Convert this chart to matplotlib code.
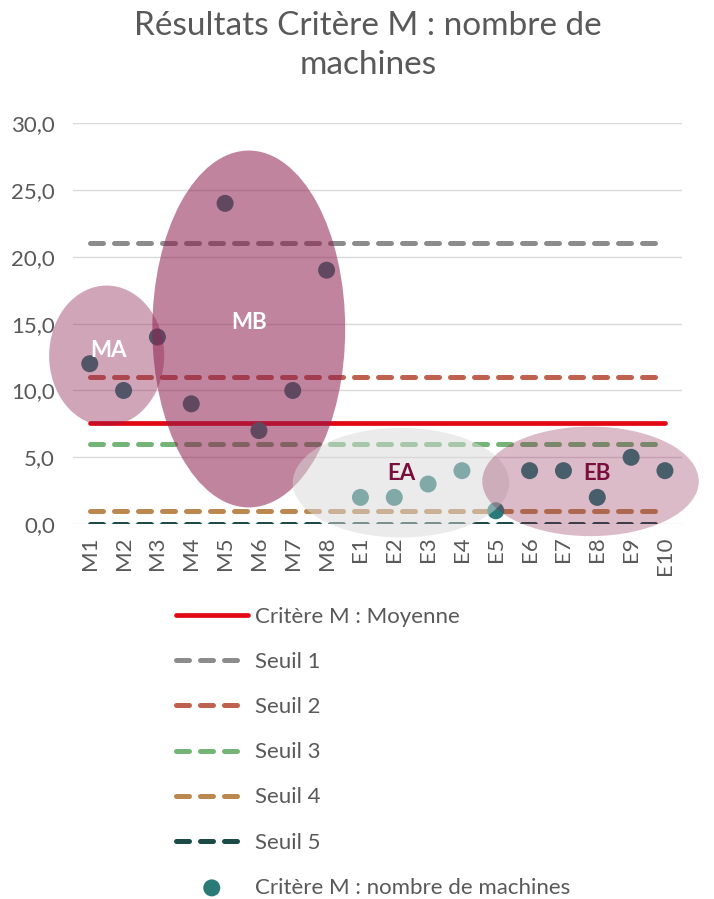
import matplotlib.pyplot as plt
from matplotlib.patches import Ellipse
import numpy as np

plt.rcParams['font.family'] = ['Lato', 'DejaVu Sans']

categories = ['M1', 'M2', 'M3', 'M4', 'M5', 'M6', 'M7', 'M8',
              'E1', 'E2', 'E3', 'E4', 'E5', 'E6', 'E7', 'E8', 'E9', 'E10']
nb_machines = [12, 10, 14, 9, 24, 7, 10, 19,
               2, 2, 3, 4, 1, 4, 4, 2, 5, 4]
moyenne = 7.6
seuils = [21, 11, 6, 1, 0]
seuil_labels = ['Seuil 1', 'Seuil 2', 'Seuil 3', 'Seuil 4', 'Seuil 5']
seuil_colors = ['#8c8c8c', '#c0604f', '#74b577', '#bb8850', '#1b4a47']

grey_txt = '#595959'
x = np.arange(len(categories))

fig = plt.figure(figsize=(7.14, 8.99), dpi=100)
ax = fig.add_axes([0.102, 0.417, 0.853, 0.446])

ax.plot(x, [moyenne] * len(x), color='#e30613', lw=3.4,
        solid_capstyle='round', label='Critère M : Moyenne', zorder=3)
for val, lab, col in zip(seuils, seuil_labels, seuil_colors):
    ax.plot(x, [val] * len(x), color=col, lw=3.6, ls=(0, (2.6, 2.2)),
            dash_capstyle='round', label=lab, zorder=3)
ax.scatter(x, nb_machines, s=150, color='#2a7a78', edgecolors='none',
           label='Critère M : nombre de machines', zorder=4)

# groupes entourés
groups = [
    # (cx, cy, w, h, color, alpha, name, text color, tx, ty)
    (0.5, 12.6, 3.4, 10.5, '#8e1f4f', 0.40, 'MA', 'white', 0.55, 13.0),
    (4.7, 14.6, 5.7, 26.7, '#8e1f4f', 0.55, 'MB', 'white', 4.7, 15.1),
    (9.2, 3.1, 6.4, 8.2, '#d9d9d9', 0.50, 'EA', '#7a0f3d', 9.2, 3.8),
    (14.8, 3.2, 6.4, 8.2, '#8e1f4f', 0.30, 'EB', '#7a0f3d', 15.0, 3.8),
]
for cx, cy, w, h, col, a, name, tcol, tx, ty in groups:
    ax.add_patch(Ellipse((cx, cy), w, h, facecolor=col, alpha=a,
                         edgecolor='none', zorder=5, clip_on=False))
    ax.text(tx, ty, name, color=tcol, fontsize=16, fontweight='bold',
            ha='center', va='center', zorder=6)

ax.set_xlim(-0.5, len(x) - 0.5)
ax.set_ylim(0, 30)
ax.set_yticks(np.arange(0, 31, 5))
ax.set_yticklabels([f'{v:.1f}'.replace('.', ',') for v in np.arange(0, 31, 5)])
ax.set_xticks(x)
ax.set_xticklabels(categories, rotation=90)
ax.tick_params(length=0, labelsize=16, colors=grey_txt)
ax.tick_params(axis='y', pad=13)
ax.tick_params(axis='x', pad=9)
ax.grid(axis='y', color='#d9d9d9', lw=1)
ax.set_axisbelow(True)
for sp in ax.spines.values():
    sp.set_visible(False)

fig.suptitle('Résultats Critère M : nombre de\nmachines', fontsize=24,
             color=grey_txt, x=0.515, y=0.988, va='top', linespacing=1.4)

leg = ax.legend(loc='upper left', bbox_to_anchor=(0.218, 0.347),
                bbox_transform=fig.transFigure, frameon=False, fontsize=16,
                handlelength=3.25, handletextpad=0.32, labelspacing=1.13)
for t in leg.get_texts():
    t.set_color(grey_txt)

fig.savefig('out.png', dpi=100)
